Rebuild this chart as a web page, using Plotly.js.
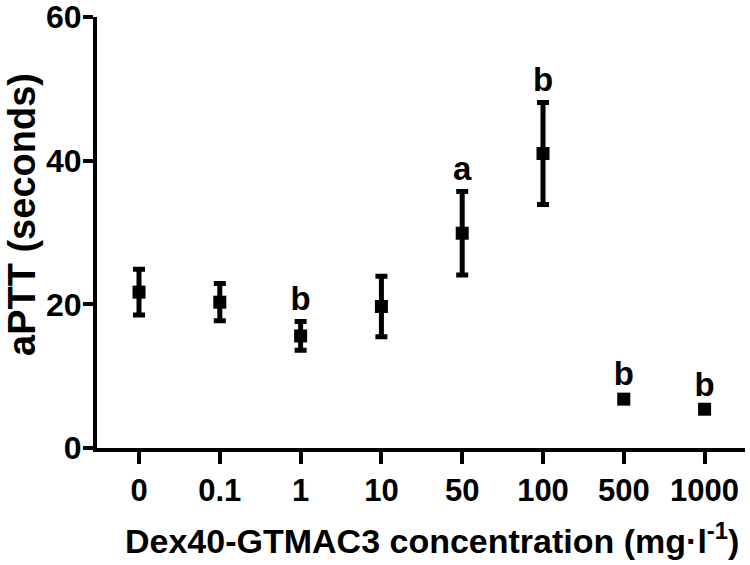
<!DOCTYPE html>
<html>
<head>
<meta charset="utf-8">
<script src="https://cdn.plot.ly/plotly-3.0.1.min.js"></script>
<style>
  body { margin: 0; background: #fff; }
  #chart { width: 750px; height: 565px; }
</style>
</head>
<body>
<div id="chart"></div>
<script>
const concentrations = ['0', '0.1', '1', '10', '50', '100', '500', '1000'];
const aptt = [21.7, 20.3, 15.6, 19.7, 29.9, 41.0, 6.8, 5.4];
const sem = [3.2, 2.6, 2.0, 4.2, 5.8, 7.1, 0.4, 0.3];
const letters = ['', '', 'b', '', 'a', 'b', 'b', 'b'];

const font = 'Liberation Sans, Arial, sans-serif';

const trace = {
    x: concentrations,
    y: aptt,
    type: 'scatter',
    mode: 'markers',
    marker: { symbol: 'square', size: 13, color: '#000' },
    error_y: { type: 'data', array: sem, visible: true, color: '#000', thickness: 5, width: 6 },
    hoverinfo: 'skip'
};

// significance letters sit just above each error bar (only where there is one)
const marked = letters.map((l, i) => i).filter(i => letters[i]);
const letterTrace = {
    x: marked.map(i => concentrations[i]),
    y: marked.map(i => aptt[i] + sem[i] + 0.4),
    type: 'scatter',
    mode: 'text',
    text: marked.map(i => letters[i]),
    textposition: 'top center',
    textfont: { family: font, size: 33, color: '#000', weight: 'bold' },
    hoverinfo: 'skip',
    cliponaxis: false
};

const layout = {
    width: 750,
    height: 565,
    margin: { l: 97, r: 5, t: 17, b: 117 },
    paper_bgcolor: '#fff',
    plot_bgcolor: '#fff',
    showlegend: false,
    font: { family: font, color: '#000', weight: 'bold' },
    xaxis: {
        type: 'category',
        range: [-0.52, 7.5],
        showgrid: false,
        zeroline: false,
        showline: true,
        linewidth: 4,
        linecolor: '#000',
        ticks: 'outside',
        ticklen: 12,
        tickwidth: 4,
        tickcolor: '#000',
        tickfont: { family: font, size: 31, color: '#000', weight: 'bold' }
    },
    yaxis: {
        range: [0, 60],
        tickvals: [0, 20, 40, 60],
        showgrid: false,
        zeroline: false,
        showline: true,
        linewidth: 4,
        linecolor: '#000',
        ticks: 'outside',
        ticklen: 10,
        tickwidth: 4,
        tickcolor: '#000',
        ticklabelstandoff: -5,
        ticklabeloverflow: 'allow',
        tickfont: { family: font, size: 32, color: '#000', weight: 'bold' }
    },
    annotations: [
        {
            text: 'Dex40-GTMAC3 concentration (mg·l<sup>-1</sup>)',
            xref: 'paper', yref: 'paper',
            x: (432 - 97) / 648, y: -(538 - 448) / 431,
            xanchor: 'center', yanchor: 'middle',
            showarrow: false,
            font: { family: font, size: 34, color: '#000', weight: 'bold' }
        },
        {
            text: 'aPTT (seconds)',
            xref: 'paper', yref: 'paper',
            x: -(97 - 22) / 648, y: (448 - 215) / 431,
            xanchor: 'center', yanchor: 'middle',
            textangle: -90,
            showarrow: false,
            font: { family: font, size: 38, color: '#000', weight: 'bold' }
        }
    ]
};

Plotly.newPlot('chart', [trace, letterTrace], layout, { displayModeBar: false, staticPlot: true });
</script>
</body>
</html>
